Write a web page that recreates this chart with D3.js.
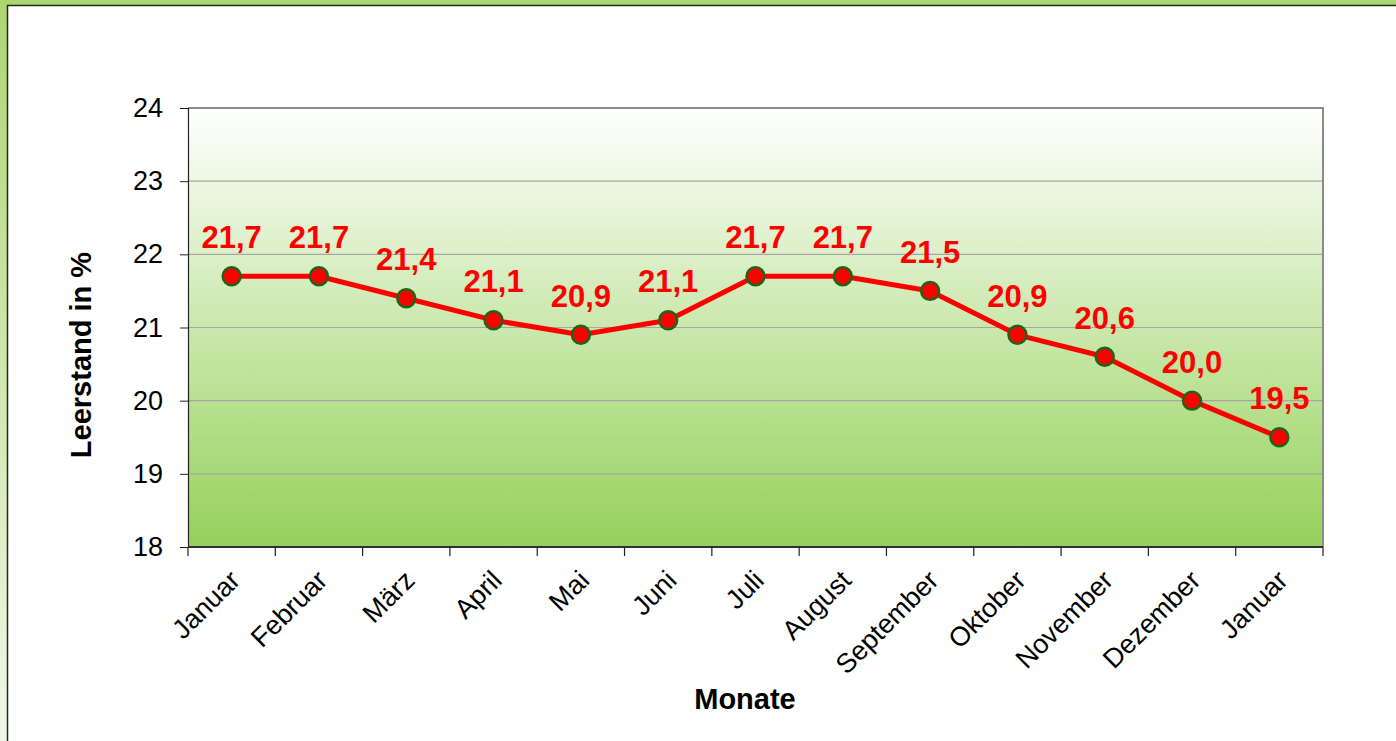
<!DOCTYPE html>
<html><head><meta charset="utf-8">
<script src="https://cdn.jsdelivr.net/npm/d3@7"></script>
<style>html,body{margin:0;padding:0;background:#fff;overflow:hidden}</style>
</head><body>
<script>
const months = ["Januar","Februar","März","April","Mai","Juni","Juli","August","September","Oktober","November","Dezember","Januar"];
const values = [21.7,21.7,21.4,21.1,20.9,21.1,21.7,21.7,21.5,20.9,20.6,20.0,19.5];
const yTicks = [18,19,20,21,22,23,24];
const yTitle = "Leerstand in %";
const xTitle = "Monate";

const W = 1396, H = 741;
const svg = d3.select("body").append("svg").attr("width", W).attr("height", H);
const defs = svg.append("defs");
const og = defs.append("linearGradient").attr("id","outer").attr("x1",0).attr("y1",0).attr("x2",0).attr("y2",1);
og.append("stop").attr("offset","0%").attr("stop-color","#aed574");
og.append("stop").attr("offset","100%").attr("stop-color","#f2f7ea");
const pg = defs.append("linearGradient").attr("id","plot").attr("x1",0).attr("y1",0).attr("x2",0).attr("y2",1);
pg.append("stop").attr("offset","0%").attr("stop-color","#ffffff");
pg.append("stop").attr("offset","100%").attr("stop-color","#95d15a");

// outer frame
svg.append("rect").attr("x",0).attr("y",0).attr("width",W).attr("height",H).attr("fill","url(#outer)");
svg.append("rect").attr("x",0).attr("y",0).attr("width",W).attr("height",5).attr("fill","#aed574");
svg.append("rect").attr("x",7.5).attr("y",5.5).attr("width",W).attr("height",H).attr("fill","#fff").attr("stroke","#1e2e12").attr("stroke-width",1.5);

const L = 188, R = 1323, T = 108, B = 547;
const x = d3.scaleBand().domain(d3.range(months.length)).range([L, R]);
const y = d3.scaleLinear().domain([18, 24]).range([B, T]);

svg.append("rect").attr("x",L).attr("y",T).attr("width",R-L).attr("height",B-T).attr("fill","url(#plot)");

// grid
svg.append("g").selectAll("line").data(yTicks.filter(t=>t>18&&t<24)).join("line")
  .attr("x1",L).attr("x2",R).attr("y1",d=>y(d)).attr("y2",d=>y(d))
  .attr("stroke","#a6a6a6").attr("stroke-width",1.2);

// plot border top/right
svg.append("path").attr("d",`M${L},${T}H${R}V${B}`).attr("fill","none").attr("stroke","#8c8c8c").attr("stroke-width",2);

// y axis
const ya = svg.append("g").attr("transform",`translate(${L},0)`)
  .call(d3.axisLeft(y).tickValues(yTicks).tickSize(8).tickPadding(17).tickFormat(d3.format("d")));
ya.select(".domain").attr("stroke","#222").attr("stroke-width",1.2);
ya.selectAll(".tick line").attr("stroke","#222");
ya.selectAll("text").attr("font-family","Arial, 'Liberation Sans', sans-serif").attr("font-size",27).attr("fill","#000");

// x axis
const xa = svg.append("g").attr("transform",`translate(0,${B})`);
xa.append("line").attr("x1",L).attr("x2",R).attr("stroke","#333").attr("stroke-width",2);
const bounds = d3.range(months.length+1).map(i => i < months.length ? x(i) : x(months.length-1)+x.bandwidth());
xa.selectAll("line.t").data(bounds).join("line").attr("class","t")
  .attr("x1",d=>d).attr("x2",d=>d).attr("y1",0).attr("y2",9).attr("stroke","#222").attr("stroke-width",1.2);
xa.selectAll("text.m").data(months).join("text").attr("class","m")
  .attr("transform",(d,i)=>`translate(${x(i)+x.bandwidth()/2+10},${35}) rotate(-45)`)
  .attr("text-anchor","end")
  .attr("font-family","Arial, 'Liberation Sans', sans-serif").attr("font-size",27)
  .text(d=>d);

// line
const cx = (d,i) => x(i) + x.bandwidth()/2;
svg.append("path").datum(values)
  .attr("d", d3.line().x((d,i)=>cx(d,i)).y(d=>y(d)))
  .attr("fill","none").attr("stroke","#ff0000").attr("stroke-width",5).attr("stroke-linejoin","round");
svg.append("g").selectAll("circle").data(values).join("circle")
  .attr("cx",cx).attr("cy",d=>y(d)).attr("r",9)
  .attr("fill","#ff0000").attr("stroke","#17661a").attr("stroke-width",2.4);

// data labels
const fmt = v => d3.format(".1f")(v).replace(".", ",");
svg.append("g").selectAll("text").data(values).join("text")
  .attr("x",cx).attr("y",d=>y(d)-28)
  .attr("text-anchor","middle")
  .attr("font-family","Arial, 'Liberation Sans', sans-serif").attr("font-weight","bold").attr("font-size",31)
  .attr("fill","#ff0000").text(fmt);

// titles
svg.append("text").attr("transform",`translate(91,355) rotate(-90)`)
  .attr("text-anchor","middle")
  .attr("font-family","Arial, 'Liberation Sans', sans-serif").attr("font-weight","bold").attr("font-size",29)
  .text(yTitle);
svg.append("text").attr("x",745).attr("y",709).attr("text-anchor","middle")
  .attr("font-family","Arial, 'Liberation Sans', sans-serif").attr("font-weight","bold").attr("font-size",29)
  .text(xTitle);
</script>
</body></html>
